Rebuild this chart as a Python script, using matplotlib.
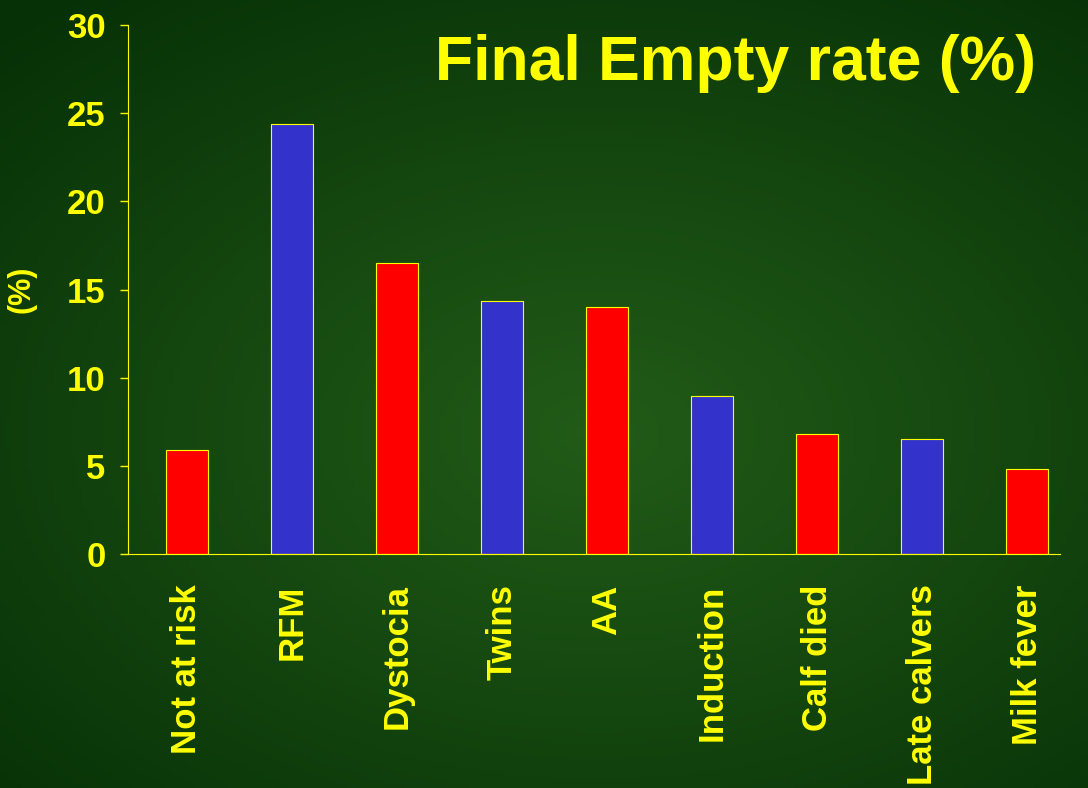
import numpy as np
import matplotlib
matplotlib.use("Agg")
import matplotlib.pyplot as plt

categories = ["Not at risk", "RFM", "Dystocia", "Twins", "AA", "Induction",
              "Calf died", "Late calvers", "Milk fever"]
values = [5.9, 24.4, 16.5, 14.35, 14.0, 8.96, 6.8, 6.5, 4.8]
colours = ["#ff0000", "#3333cc"] * 4 + ["#ff0000"]
yticks = [0, 5, 10, 15, 20, 25, 30]

YELLOW = "#ffff00"
plt.rcParams["font.family"] = ["Liberation Sans", "DejaVu Sans"]

fig = plt.figure(figsize=(10.88, 7.88), dpi=100)

# green slide background with a soft radial glow
bg = fig.add_axes([0, 0, 1, 1], zorder=-10)
yy, xx = np.mgrid[0:1:200j, 0:1:200j]
r = np.sqrt((xx - 0.55) ** 2 + ((yy - 0.55) * 1.1) ** 2)
glow = np.clip(1 - r / 0.8, 0, 1)
c0 = np.array([0x06, 0x30, 0x06]) / 255
c1 = np.array([0x22, 0x5c, 0x18]) / 255
img = c0 + (c1 - c0) * glow[..., None]
bg.imshow(img, extent=[0, 1, 0, 1], aspect="auto")
bg.axis("off")

ax = fig.add_axes([0.1176, 0.297, 0.8566, 0.671])
ax.patch.set_alpha(0)
x = np.arange(len(categories))
ax.bar(x, values, width=0.4, color=colours, edgecolor=YELLOW, linewidth=0.8)
ax.set_xlim(-0.56, 8.31)
ax.set_ylim(0, 30)
ax.set_yticks(yticks)
ax.set_xticks(x)
ax.set_xticklabels(categories, rotation=90, fontsize=25, fontweight="bold", color=YELLOW)
for lab in ax.get_yticklabels():
    lab.set_fontsize(25)
    lab.set_fontweight("bold")
    lab.set_color(YELLOW)
ax.tick_params(axis="y", colors=YELLOW, length=6, width=1, direction="out", pad=10)
ax.tick_params(axis="x", length=0, pad=22)
for s in ("top", "right"):
    ax.spines[s].set_visible(False)
for s in ("left", "bottom"):
    ax.spines[s].set_color(YELLOW)
ax.set_ylabel("(%)", fontsize=22, fontweight="bold", color=YELLOW, labelpad=22)

fig.text(0.952, 0.92, "Final Empty rate (%)", ha="right", va="center",
         fontsize=45, fontweight="bold", color=YELLOW)

fig.savefig("out.png", dpi=100)
